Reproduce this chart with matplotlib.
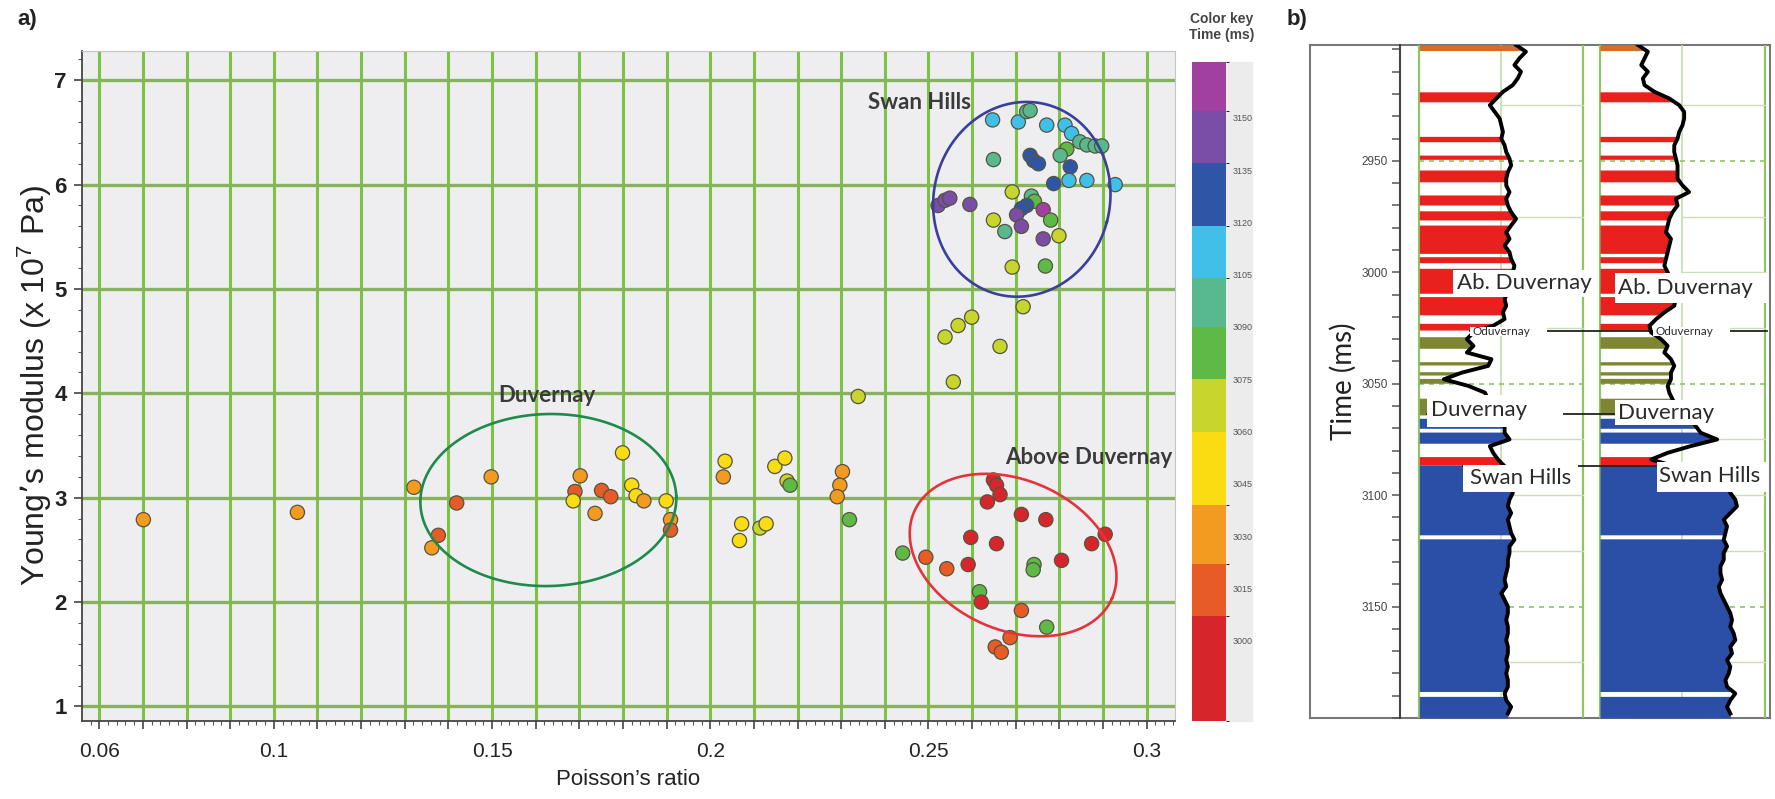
import numpy as np
import matplotlib
matplotlib.use('Agg')
import matplotlib.pyplot as plt
from matplotlib.colors import ListedColormap, BoundaryNorm
from matplotlib.patches import Rectangle
from matplotlib.ticker import MultipleLocator, FixedLocator
import matplotlib.cm as cm

plt.rcParams['font.family'] = ['Liberation Sans', 'DejaVu Sans']
plt.rcParams['mathtext.default'] = 'regular'

# ---------------- panel a: crossplot ----------------
poisson = [0.0701, 0.1054, 0.1321, 0.1419, 0.1377, 0.1362, 0.1498, 0.1702, 0.1690, 0.1686,
           0.1736, 0.1751, 0.1772, 0.1799, 0.1820, 0.1830, 0.1848, 0.1899, 0.1909, 0.1909,
           0.2034, 0.2030, 0.2148, 0.2171, 0.2176, 0.2183, 0.2303, 0.2297, 0.2291, 0.2319,
           0.2339, 0.2072, 0.2067, 0.2114, 0.2128,
           0.2647, 0.2706, 0.2725, 0.2733, 0.2771, 0.2813, 0.2828, 0.2847, 0.2863, 0.2882,
           0.2897, 0.2817, 0.2802, 0.2649, 0.2733, 0.2741, 0.2752, 0.2825, 0.2787, 0.2822,
           0.2863, 0.2928, 0.2692, 0.2736, 0.2743, 0.2725, 0.2713, 0.2702, 0.2675, 0.2649,
           0.2713, 0.2522, 0.2538, 0.2549, 0.2595, 0.2763, 0.2780, 0.2763, 0.2799, 0.2692,
           0.2768, 0.2717, 0.2599, 0.2568, 0.2538, 0.2664, 0.2557,
           0.2649, 0.2656, 0.2664, 0.2635, 0.2713, 0.2769, 0.2597, 0.2656, 0.2874, 0.2905,
           0.2441, 0.2494, 0.2542, 0.2591, 0.2742, 0.2740, 0.2805, 0.2617, 0.2621, 0.2713,
           0.2771, 0.2687, 0.2653, 0.2667]
young = [2.79, 2.86, 3.10, 2.95, 2.64, 2.52, 3.20, 3.21, 3.06, 2.97,
         2.85, 3.07, 3.01, 3.43, 3.12, 3.02, 2.97, 2.97, 2.79, 2.69,
         3.35, 3.20, 3.30, 3.38, 3.16, 3.12, 3.25, 3.12, 3.01, 2.79,
         3.97, 2.75, 2.59, 2.71, 2.75,
         6.62, 6.60, 6.70, 6.71, 6.57, 6.57, 6.49, 6.41, 6.38, 6.37,
         6.37, 6.34, 6.28, 6.24, 6.28, 6.23, 6.20, 6.17, 6.01, 6.04,
         6.04, 6.00, 5.93, 5.89, 5.84, 5.80, 5.77, 5.71, 5.55, 5.66,
         5.60, 5.80, 5.85, 5.87, 5.81, 5.76, 5.66, 5.48, 5.51, 5.21,
         5.22, 4.83, 4.73, 4.65, 4.54, 4.45, 4.11,
         3.17, 3.12, 3.03, 2.96, 2.84, 2.79, 2.62, 2.56, 2.56, 2.65,
         2.47, 2.43, 2.32, 2.36, 2.36, 2.31, 2.40, 2.10, 2.00, 1.92,
         1.76, 1.66, 1.57, 1.52]
time_ms = [3030, 3030, 3030, 3015, 3015, 3030, 3030, 3030, 3015, 3050,
           3030, 3015, 3015, 3050, 3050, 3050, 3030, 3050, 3030, 3015,
           3050, 3030, 3050, 3050, 3068, 3082, 3030, 3030, 3030, 3082,
           3068, 3050, 3050, 3068, 3050,
           3112, 3112, 3097, 3097, 3112, 3112, 3112, 3097, 3097, 3097,
           3097, 3082, 3097, 3097, 3128, 3128, 3128, 3128, 3128, 3112,
           3112, 3112, 3068, 3097, 3082, 3128, 3128, 3145, 3097, 3068,
           3145, 3145, 3145, 3145, 3145, 3158, 3082, 3145, 3068, 3068,
           3082, 3068, 3068, 3068, 3068, 3068, 3068,
           2995, 2995, 2995, 2995, 2995, 2995, 2995, 2995, 2995, 2995,
           3082, 3015, 3015, 2995, 3082, 3082, 2995, 3082, 2995, 3015,
           3082, 3015, 3015, 3015]

key_bounds = [2977, 3007, 3022, 3039, 3060, 3075, 3090, 3104, 3119, 3137, 3152, 3166]
key_colors = ['#d6262c', '#e65b26', '#f39b20', '#f9dc12', '#c8d52c', '#5fb947',
              '#58b98e', '#40c0e8', '#2f55a7', '#7a4ea7', '#a2409f']
key_ticks = [3000, 3015, 3030, 3045, 3060, 3075, 3090, 3105, 3120, 3135, 3150]

x_grid = [0.06, 0.07, 0.08, 0.09, 0.10, 0.11, 0.12, 0.13, 0.14, 0.15, 0.16, 0.17, 0.18,
          0.19, 0.20, 0.21, 0.22, 0.23, 0.24, 0.25, 0.26, 0.27, 0.28, 0.29, 0.30]
x_labels = ['0.06', '', '', '', '0.1', '', '', '', '', '0.15', '', '', '', '', '0.2',
            '', '', '', '', '0.25', '', '', '', '', '0.3']
y_ticks = [1, 2, 3, 4, 5, 6, 7]

ring_x = [0.2714, 0.2694, 0.1629]
ring_y = [5.859, 2.451, 2.978]
ring_a = [88, 108, 128]
ring_b = [98, 75, 86]
ring_ang = [-14.7, -23.7, 1.5]
ring_col = ['#3a3f9c', '#e5333c', '#1f8a4c']

zone_text = ['Swan Hills', 'Duvernay', 'Above Duvernay']
zone_tx = [0.2362, 0.1514, 0.2675]
zone_ty = [6.79, 3.98, 3.39]

# ---------------- panel b: well logs ----------------
log_time = np.arange(2898, 3199, 3)
track1 = [.59, .65, .61, .58, .62, .60, .57, .51, .47, .43,
          .46, .49, .50, .51, .50, .52, .53, .55, .56, .54,
          .53, .53, .55, .53, .54, .56, .59, .56, .53, .55,
          .52, .55, .56, .58, .57, .55, .55, .54, .52, .53,
          .51, .52, .45, .33, .29, .33, .29, .44, .42, .26,
          .15, .30, .40, .42, .45, .48, .50, .52, .52, .55,
          .43, .45, .48, .52, .54, .55, .56, .57, .55, .54,
          .56, .54, .55, .56, .58, .55, .55, .54, .54, .53,
          .52, .53, .50, .52, .54, .54, .53, .54, .54, .53,
          .54, .54, .53, .54, .53, .54, .54, .52, .53, .56,
          .54]
track2 = [.23, .29, .27, .25, .29, .26, .27, .33, .42, .48,
          .51, .51, .50, .48, .47, .45, .45, .46, .47, .47,
          .47, .50, .54, .46, .47, .44, .42, .41, .40, .43,
          .42, .41, .40, .39, .41, .43, .45, .47, .46, .45,
          .39, .34, .30, .31, .37, .41, .39, .43, .45, .43,
          .43, .41, .42, .44, .46, .50, .55, .58, .61, .71,
          .55, .41, .31, .45, .60, .72, .78, .79, .82, .83,
          .79, .75, .77, .76, .75, .77, .75, .75, .73, .73,
          .74, .72, .73, .75, .77, .79, .80, .79, .81, .82,
          .79, .80, .77, .79, .78, .76, .77, .82, .79, .77,
          .79]

zone_top = [2898.0, 2919.0, 2939.0, 2947.4, 2954.1, 2965.3, 2972.4, 2978.8, 2993.0, 2998.2,
            3010.9, 3022.9, 3028.9, 3040.1, 3044.6, 3047.6, 3056.5, 3065.5, 3071.7, 3082.7,
            3086.4, 3119.6, 3190.3]
zone_base = [2900.5, 2923.5, 2941.4, 2949.3, 2959.4, 2969.8, 2976.5, 2991.5, 2995.7, 3009.4,
             3019.1, 3025.9, 3034.1, 3041.6, 3046.1, 3049.8, 3064.0, 3070.0, 3076.7, 3086.4,
             3117.8, 3188.1, 3200.0]
zone_kind = ['top', 'above', 'above', 'above', 'above', 'above', 'above', 'above', 'above', 'above',
             'above', 'above', 'duv', 'duv', 'duv', 'duv', 'duv', 'swan', 'swan', 'above',
             'swan', 'swan', 'swan']
zone_fill = {'top': '#d0702a', 'above': '#e8211f', 'duv': '#7e8633', 'swan': '#2b4ea6'}

time_ticks = [2950, 3000, 3050, 3100, 3150]

W, H = 1775, 799
fig = plt.figure(figsize=(W / 100, H / 100), dpi=100)


def px_axes(l, t, r, b):
    return fig.add_axes([l / W, 1 - b / H, (r - l) / W, (b - t) / H])


ax = px_axes(82, 51, 1175, 721)
ax.set_facecolor('#eeeef1')
ax.set_xlim(0.05604, 0.3065)
ax.set_ylim(0.861, 7.28)

ax.xaxis.set_major_locator(FixedLocator(x_grid))
ax.set_xticklabels(x_labels)
ax.xaxis.set_minor_locator(MultipleLocator(0.002))
ax.set_yticks(y_ticks)
ax.yaxis.set_minor_locator(MultipleLocator(0.2))
ax.tick_params(axis='both', which='major', length=6, width=1.2, color='#444',
               labelsize=16, labelcolor='#222', pad=5)
ax.tick_params(axis='x', labelsize=15, pad=9)
ax.tick_params(axis='both', which='minor', length=3, width=0.8, color='#555')
for lab in ax.get_yticklabels():
    lab.set_fontweight('bold')
for x in x_grid:
    ax.axvline(x, color='#7cc343', lw=2.2, zorder=1)
for y in y_ticks:
    ax.axhline(y, color='#86b35c', lw=2.4, zorder=1)
for s in ['left', 'bottom']:
    ax.spines[s].set_color('#444')
    ax.spines[s].set_linewidth(1.3)
for s in ['top', 'right']:
    ax.spines[s].set_color('#c4c4c4')

cmap = ListedColormap(key_colors)
norm = BoundaryNorm(key_bounds, cmap.N)
ax.scatter(poisson, young, c=time_ms, cmap=cmap, norm=norm, s=105,
           edgecolors='#55553f', linewidths=0.9, zorder=3)

bb = ax.get_window_extent()
sx = bb.width / (ax.get_xlim()[1] - ax.get_xlim()[0])
sy = bb.height / (ax.get_ylim()[1] - ax.get_ylim()[0])
tt = np.linspace(0, 2 * np.pi, 300)
for cx, cy, a, b, ang, col in zip(ring_x, ring_y, ring_a, ring_b, ring_ang, ring_col):
    th = np.radians(ang)
    ex = a * np.cos(tt) * np.cos(th) - b * np.sin(tt) * np.sin(th)
    ey = a * np.cos(tt) * np.sin(th) + b * np.sin(tt) * np.cos(th)
    ax.plot(cx + ex / sx, cy + ey / sy, color=col, lw=1.9, zorder=4)

for txt, tx, ty in zip(zone_text, zone_tx, zone_ty):
    ax.text(tx, ty, txt, fontsize=16, fontweight='bold', color='#3a3a3a',
            family=['Lato', 'DejaVu Sans'], va='center', ha='left', zorder=5)

ax.set_xlabel('Poisson’s ratio', fontsize=16, color='#222', labelpad=6)
ax.set_ylabel('Young’s modulus (x 10$^{7}$ Pa)', fontsize=23, color='#222', labelpad=0)
fig.text(17 / W, 1 - 20 / H, 'a)', fontsize=16, fontweight='bold', color='#222',
         va='center', ha='left')

# colour key
fig.patches.append(Rectangle((1226 / W, 1 - 721 / H), 26 / W, 659 / H,
                             transform=fig.transFigure, color='#ececec', zorder=-1))
cax = px_axes(1192, 62, 1226, 721)
cb = fig.colorbar(cm.ScalarMappable(norm=norm, cmap=cmap), cax=cax,
                  ticks=key_ticks, spacing='proportional')
cb.outline.set_visible(False)
cax.tick_params(length=0, labelsize=6.5, labelcolor='#555', pad=5)
fig.text(1222 / W, 1 - 12 / H, 'Color key\nTime (ms)', fontsize=10, fontweight='bold',
         color='#444', ha='center', va='top', linespacing=1.15)

# ---------------- panel b ----------------
frame = px_axes(1310, 45, 1770, 718)
frame.set_xticks([])
frame.set_yticks([])
for s in frame.spines.values():
    s.set_color('#777')
    s.set_linewidth(1.5)

bx = px_axes(1400, 45, 1770, 718)
bx.set_facecolor('none')
bx.set_xlim(0, 1)
bx.set_ylim(3200, 2898)
bx.set_xticks([])
bx.set_yticks(time_ticks)
bx.yaxis.set_minor_locator(MultipleLocator(10))
bx.tick_params(axis='y', which='both', length=6, width=1.1, color='#555',
               labelsize=8.5, labelcolor='#444', pad=3)
for s in ['top', 'right', 'bottom']:
    bx.spines[s].set_visible(False)
bx.spines['left'].set_color('#444')
bx.spines['left'].set_linewidth(1.5)
bx.set_ylabel('Time (ms)', fontsize=20, color='#222', family=['Lato', 'DejaVu Sans'],
              labelpad=3)

track_x0 = [0.0522, 0.5405]
track_w = [0.4432, 0.446]
curves = [track1, track2]

for x0, w, cv in zip(track_x0, track_w, curves):
    cv = np.asarray(cv)
    bx.plot([x0, x0], [2898, 3200], color='#8cc665', lw=1.6, zorder=1)
    bx.plot([x0 + w, x0 + w], [2898, 3200], color='#8cc665', lw=1.6, zorder=1)
    bx.plot([x0 + w / 2, x0 + w / 2], [2898, 3200], color='#c3dfaa', lw=1.2, zorder=1)
    for g in [2925, 2975, 3000, 3025, 3075, 3100, 3125, 3175]:
        bx.plot([x0 + w / 2, x0 + w], [g, g], color='#c9dfb6', lw=1.0, zorder=1)
    for g in [2950, 3050, 3150]:
        bx.plot([x0, x0 + w], [g, g], color='#8cc665', lw=1.2, ls=(0, (3, 3)), zorder=1)
    for t0, t1, kind in zip(zone_top, zone_base, zone_kind):
        inside = log_time[(log_time > t0) & (log_time < t1)]
        ts = np.r_[t0, inside, t1]
        xs = x0 + w * np.interp(ts, log_time, cv)
        bx.fill_betweenx(ts, x0, xs, color=zone_fill[kind], lw=0, zorder=2)
    bx.plot(x0 + w * cv, log_time, color='black', lw=2.8, zorder=4)

# horizons
hz_time = [3026.4, 3063.5, 3086.8]
hz_from = [0.189, 0.072, 0.171]
hz_to = [0.991, 0.59, 0.70]
for t, a, b in zip(hz_time, hz_from, hz_to):
    bx.plot([a, b], [t, t], color='#222', lw=1.3, zorder=3)

# horizon labels in white boxes
lab_text = ['Ab. Duvernay', 'Ab. Duvernay', 'Oduvernay', 'Oduvernay',
            'Duvernay', 'Duvernay', 'Swan Hills', 'Swan Hills']
lab_box = [(0.144, 0.514, 2999.0, 3010.9), (0.581, 0.995, 3000.5, 3013.9),
           (0.189, 0.397, 3024.4, 3028.6), (0.684, 0.892, 3024.4, 3028.6),
           (0.072, 0.441, 3055.0, 3069.2), (0.581, 0.859, 3057.3, 3068.5),
           (0.171, 0.482, 3086.4, 3098.4), (0.694, 0.991, 3084.9, 3098.4)]
lab_x = [0.154, 0.590, 0.195, 0.690, 0.085, 0.590, 0.189, 0.700]
lab_t = [3005.0, 3007.0, 3026.6, 3026.6, 3062.0, 3063.0, 3092.5, 3091.5]
lab_size = [16, 16, 8.5, 8.5, 16, 16, 16, 16]
for txt, (a, b, t0, t1), x, t, fs in zip(lab_text, lab_box, lab_x, lab_t, lab_size):
    bx.add_patch(Rectangle((a, t0), b - a, t1 - t0, facecolor='white', edgecolor='none',
                           zorder=5))
    bx.text(x, t, txt, fontsize=fs, color='#2a2a2a', family=['Lato', 'DejaVu Sans'],
            ha='left', va='center', zorder=6)

fig.text(1287 / W, 1 - 20 / H, 'b)', fontsize=16, fontweight='bold', color='#222',
         va='center', ha='left')

fig.savefig('out.png', dpi=100)
